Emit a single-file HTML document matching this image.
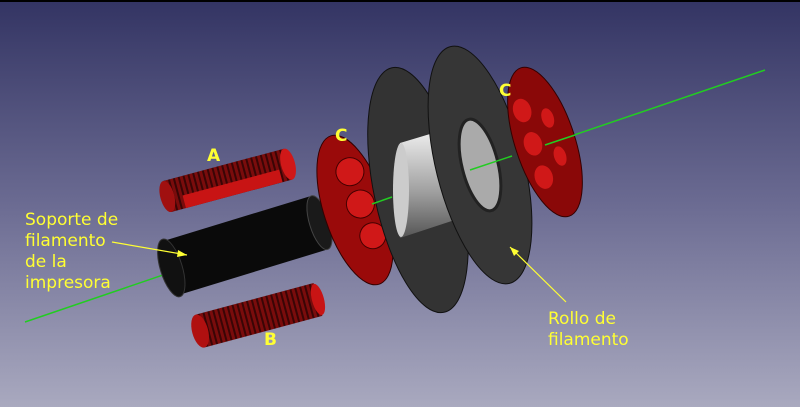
<!DOCTYPE html>
<html><head><meta charset="utf-8"><style>
html,body{margin:0;padding:0;width:800px;height:407px;overflow:hidden}
svg{display:block}
text{font-family:"DejaVu Sans","Liberation Sans",sans-serif;fill:#ffff33}
</style></head><body>
<svg width="800" height="407" viewBox="0 0 800 407" xmlns="http://www.w3.org/2000/svg">
<defs>
<linearGradient id="bg" x1="0" y1="0" x2="0" y2="1">
<stop offset="0" stop-color="#333463"/><stop offset="0.5" stop-color="#6b6b92"/><stop offset="1" stop-color="#a9a9bf"/>
</linearGradient>
<linearGradient id="hub" x1="0" y1="0" x2="0" y2="1">
<stop offset="0" stop-color="#fafafa"/><stop offset="0.6" stop-color="#a0a0a0"/><stop offset="1" stop-color="#555"/>
</linearGradient>
<pattern id="rib" width="5" height="10" patternUnits="userSpaceOnUse">
<rect width="5" height="10" fill="#7a0c0c"/><rect width="2" height="10" fill="#3a0505"/>
</pattern>
</defs>
<rect width="800" height="407" fill="url(#bg)"/>
<rect width="800" height="2" fill="#000"/>
<line x1="25" y1="322" x2="765" y2="70" stroke="#22cc22" stroke-width="1.5"/>
<!-- black holder -->
<g transform="rotate(-17 243 246)">
<rect x="168" y="218" width="155" height="56" fill="#0a0a0a"/>
<ellipse cx="168" cy="246" rx="11" ry="30" fill="#111" stroke="#333"/>
<ellipse cx="323" cy="246" rx="10" ry="28" fill="#1a1a1a" stroke="#444"/>
</g>
<!-- A -->
<g transform="rotate(-15 225 180)">
<rect x="165" y="165" width="125" height="32" fill="url(#rib)"/>
<rect x="180" y="184" width="100" height="13" fill="#c81414"/>
<ellipse cx="165" cy="181" rx="7" ry="16" fill="#a01010"/>
<ellipse cx="290" cy="181" rx="7" ry="16" fill="#d01818"/>
</g>
<!-- B -->
<g transform="rotate(-15 260 315)">
<rect x="198" y="298" width="122" height="34" fill="url(#rib)"/>
<ellipse cx="198" cy="315" rx="8" ry="17" fill="#b01010"/>
<ellipse cx="320" cy="315" rx="6" ry="16" fill="#c81414"/>
</g>
<!-- C left -->
<g transform="rotate(-18 355 210)">
<ellipse cx="355" cy="210" rx="31" ry="78" fill="#9a0a0a" stroke="#300" />
<ellipse cx="362" cy="172" rx="14" ry="14" fill="#d01818" stroke="#400"/>
<ellipse cx="362" cy="206" rx="14" ry="14" fill="#d01818" stroke="#400"/>
<ellipse cx="364" cy="240" rx="13" ry="13" fill="#d01818" stroke="#400"/>
</g>
<!-- spool -->
<g transform="rotate(-12 418 190)"><ellipse cx="418" cy="190" rx="44" ry="125" fill="#333" stroke="#111"/></g>
<polygon points="400,143 470,122 470,215 400,238" fill="url(#hub)"/>
<ellipse cx="401" cy="190" rx="8" ry="47" fill="#ccc"/>
<line x1="372" y1="204" x2="392" y2="197" stroke="#22cc22" stroke-width="1.5"/>
<g transform="rotate(-14 480 165)"><ellipse cx="480" cy="165" rx="44" ry="122" fill="#363636" stroke="#111"/>
<ellipse cx="480" cy="165" rx="18" ry="47" fill="#aaa" stroke="#222" stroke-width="3"/></g>
<line x1="470" y1="170" x2="512" y2="156" stroke="#22cc22" stroke-width="1.5"/>
<!-- C right -->
<g transform="rotate(-18 545 142)">
<ellipse cx="545" cy="142" rx="30" ry="78" fill="#8a0808" stroke="#300"/>
<ellipse cx="533" cy="105" rx="9" ry="12" fill="#d01818"/>
<ellipse cx="533" cy="140" rx="9" ry="12" fill="#d01818"/>
<ellipse cx="533" cy="175" rx="9" ry="12" fill="#d01818"/>
<ellipse cx="555" cy="120" rx="6" ry="10" fill="#d01818"/>
<ellipse cx="555" cy="160" rx="6" ry="10" fill="#d01818"/>
</g>
<line x1="545" y1="145" x2="575" y2="135" stroke="#22cc22" stroke-width="1.5"/>
<!-- labels -->
<line x1="112" y1="242" x2="187" y2="255" stroke="#ffff33" stroke-width="1.2"/>
<polygon points="187,255 178,250 177,257" fill="#ffff33"/>
<line x1="566" y1="302" x2="510" y2="247" stroke="#ffff33" stroke-width="1.2"/>
<polygon points="510,247 514,256 519,251" fill="#ffff33"/>
<text x="25" y="225" font-size="17">Soporte de</text>
<text x="25" y="246" font-size="17">filamento</text>
<text x="25" y="267" font-size="17">de la</text>
<text x="25" y="288" font-size="17">impresora</text>
<text x="548" y="324" font-size="17">Rollo de</text>
<text x="548" y="345" font-size="17">filamento</text>
<text x="207" y="161" font-size="17" font-weight="bold">A</text>
<text x="264" y="345" font-size="17" font-weight="bold">B</text>
<text x="335" y="141" font-size="17" font-weight="bold">C</text>
<text x="499" y="96" font-size="17" font-weight="bold">C</text>
</svg>
</body></html>
